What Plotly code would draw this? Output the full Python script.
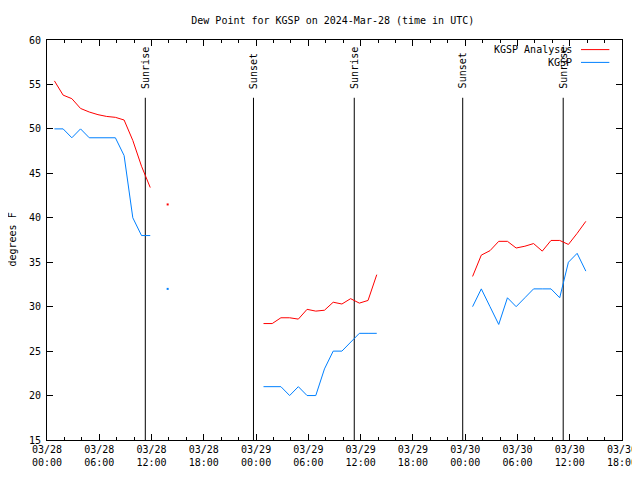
import plotly.graph_objects as go
from datetime import datetime, timedelta

base = datetime(2024, 3, 28, 0, 51)
hours = list(range(0, 62))

analysis = ([55.4, 53.8, 53.4, 52.3, 51.9, 51.6, 51.4, 51.3, 51.0, 48.7, 45.8, 43.4,
             None, 41.5] + [None] * 10 +
            [28.1, 28.1, 28.75, 28.75, 28.6, 29.7, 29.5, 29.6, 30.5, 30.3, 30.9, 30.4, 30.7, 33.6] +
            [None] * 10 +
            [33.4, 35.8, 36.3, 37.35, 37.35, 36.6, 36.8, 37.1, 36.25, 37.45, 37.45, 37.0, 38.25, 39.6])

observed = ([50, 50, 49, 50, 49, 49, 49, 49, 47, 40, 38, 38,
             None, 32] + [None] * 10 +
            [21, 21, 21, 20, 21, 20, 20, 23, 25, 25, 26, 27, 27, 27] +
            [None] * 10 +
            [30, 32, 30, 28, 31, 30, 31, 32, 32, 32, 31, 35, 36, 34])

sun_events = ["2024-03-28 11:17", "2024-03-28 23:42", "2024-03-29 11:16",
              "2024-03-29 23:43", "2024-03-30 11:15"]
sun_labels = ["Sunrise", "Sunset", "Sunrise", "Sunset", "Sunrise"]

tick_vals = ["2024-03-28 00:00", "2024-03-28 06:00", "2024-03-28 12:00", "2024-03-28 18:00",
             "2024-03-29 00:00", "2024-03-29 06:00", "2024-03-29 12:00", "2024-03-29 18:00",
             "2024-03-30 00:00", "2024-03-30 06:00", "2024-03-30 12:00", "2024-03-30 18:00"]
tick_text = ["03/28<br>00:00", "03/28<br>06:00", "03/28<br>12:00", "03/28<br>18:00",
             "03/29<br>00:00", "03/29<br>06:00", "03/29<br>12:00", "03/29<br>18:00",
             "03/30<br>00:00", "03/30<br>06:00", "03/30<br>12:00", "03/30<br>18:00"]

times = [base + timedelta(hours=h) for h in hours]

FONT = "DejaVu Sans Mono"
FS = 10
RED = "#ff0000"
BLUE = "#0080ff"

def isolated(vals):
    xs, ys = [], []
    for i, v in enumerate(vals):
        if v is None:
            continue
        prev_none = i == 0 or vals[i - 1] is None
        next_none = i == len(vals) - 1 or vals[i + 1] is None
        if prev_none and next_none:
            xs.append(times[i]); ys.append(v)
    return xs, ys

fig = go.Figure()

for t in sun_events:
    fig.add_trace(go.Scatter(x=[t, t], y=[15, 53.5], mode="lines",
                             line=dict(color="black", width=1), showlegend=False,
                             hoverinfo="skip"))

fig.add_trace(go.Scatter(x=times, y=analysis, mode="lines", name="KGSP Analysis",
                         line=dict(color=RED, width=1), connectgaps=False, showlegend=False))
fig.add_trace(go.Scatter(x=times, y=observed, mode="lines", name="KGSP",
                         line=dict(color=BLUE, width=1), connectgaps=False, showlegend=False))

for vals, col in ((analysis, RED), (observed, BLUE)):
    xs, ys = isolated(vals)
    fig.add_trace(go.Scatter(x=xs, y=ys, mode="markers",
                             marker=dict(color=col, size=2, symbol="square", line=dict(width=0)),
                             showlegend=False))

annotations = []
for t, lab in zip(sun_events, sun_labels):
    annotations.append(dict(x=t, y=54.3, xref="x", yref="y", text=lab, textangle=-90,
                            showarrow=False, xanchor="center", yanchor="bottom",
                            font=dict(family=FONT, size=FS, color="black")))

# legend (gnuplot style: text then sample line)
legend_items = [("KGSP Analysis", RED, 0.976), ("KGSP", BLUE, 0.944)]
shapes = []
for lab, col, yp in legend_items:
    annotations.append(dict(x=0.917, y=yp, xref="paper", yref="paper", text=lab,
                            showarrow=False, xanchor="right", yanchor="middle",
                            font=dict(family=FONT, size=FS, color="black")))
    shapes.append(dict(type="line", xref="paper", yref="paper", x0=0.9287, x1=0.978,
                       y0=yp, y1=yp, line=dict(color=col, width=1)))

annotations.append(dict(x=-0.073, y=0.5, xref="paper", yref="paper", text="degrees F",
                        textangle=-90, showarrow=False, xanchor="left", yanchor="middle",
                        borderpad=0,
                        font=dict(family=FONT, size=FS, color="black")))

# the page body adds an 8px offset; margins compensate
fig.update_layout(
    width=640, height=480,
    margin=dict(l=39, r=26, t=32, b=48, autoexpand=False),
    paper_bgcolor="white", plot_bgcolor="white",
    title=dict(text="Dew Point for KGSP on 2024-Mar-28 (time in UTC)", x=0.497,
               xref="paper", y=1 - 12 / 480, yref="container", yanchor="middle",
               xanchor="center", font=dict(family=FONT, size=FS, color="black")),
    font=dict(family=FONT, size=FS, color="black"),
    annotations=annotations, shapes=shapes,
    showlegend=False,
)

fig.update_xaxes(type="date", range=["2024-03-28 00:00", "2024-03-30 18:00"],
                 tickmode="array", tickvals=tick_vals, ticktext=tick_text,
                 ticks="inside", ticklen=6, tickcolor="black", tickwidth=1,
                 minor=dict(ticks="inside", ticklen=3, dtick=2 * 3600000,
                            tick0="2024-03-28 00:00", tickcolor="black", showgrid=False),
                 showline=True, linecolor="black", linewidth=1, mirror="ticks",
                 showgrid=False, zeroline=False, automargin=False,
                 tickfont=dict(family=FONT, size=FS, color="black"))
fig.update_yaxes(range=[15, 60], tickmode="linear", tick0=15, dtick=5,
                 ticks="inside", ticklen=6, tickcolor="black", tickwidth=1,
                 showline=True, linecolor="black", linewidth=1, mirror="ticks",
                 showgrid=False, zeroline=False, automargin=False, ticklabelstandoff=3,
                 tickfont=dict(family=FONT, size=FS, color="black"))

fig.write_html("out.html")
